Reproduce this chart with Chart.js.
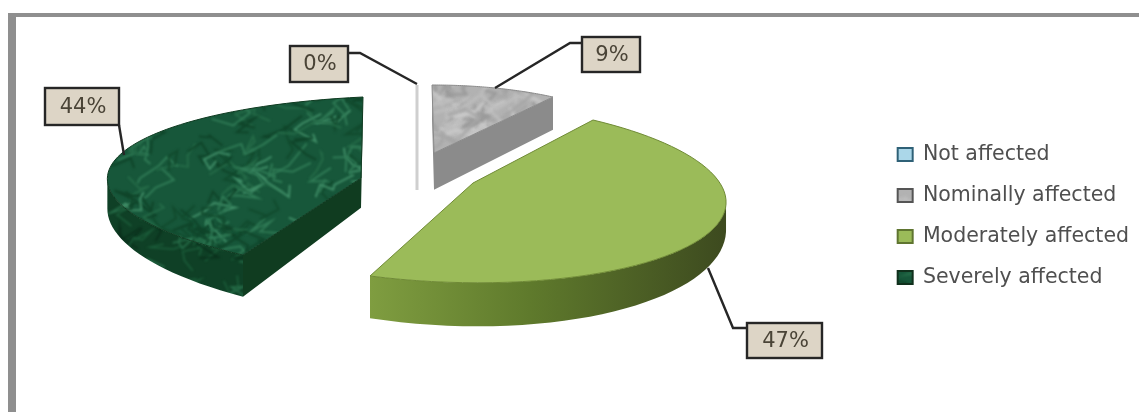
<!DOCTYPE html>
<html>
<head>
<meta charset="utf-8">
<title>Affected share</title>
<script src="https://cdn.jsdelivr.net/npm/chart.js@4/dist/chart.umd.min.js"></script>
<style>
    html, body { margin: 0; padding: 0; background: #fff; overflow: hidden; }
    #page { position: relative; width: 1139px; height: 412px; }
    #frame { position: absolute; left: 8px; top: 13px; right: 0; bottom: 0; border-left: 8px solid #8f8f8f; border-top: 4px solid #8f8f8f; }
    #wrap { position: absolute; left: 0; top: 0; width: 1139px; height: 412px; filter: blur(0.6px); }
</style>
</head>
<body>
<div id="page">
    <div id="frame"></div>
    <div id="wrap"><canvas id="chart"></canvas></div>
</div>
<script>
const categories = ['Not affected', 'Nominally affected', 'Moderately affected', 'Severely affected'];
const shares = [0, 9, 47, 44];
const swatchBorders = ['#2f6177', '#555555', '#5f7530', '#10301c'];

// --- Layout of the tilted slices: where each slice's apex and arc points land on screen ---
const sliceAnchors = [
    { line: [417, 85, 417, 190], color: '#cfcfcf' },
    { apex: [434, 153], start: [432, 85], mid: [495, 88], end: [553, 97], depth: [26, 0.07], wall: '#8b8b8b', edge: '#8a8a8a' },
    { apex: [473, 183], start: [593, 120], mid: [714, 228], end: [370, 276], depth: [-13, 0.2], edge: '#6f8a35' },
    { apex: [361, 178], start: [243, 255], mid: [115, 160], end: [363, 97], depth: [2, 0.156], wall: '#103c20', edge: '#0e3a20' }
];
const callouts = [
    { box: [290, 46, 58, 36], leader: [[348, 53], [360, 53], [417, 84]] },
    { box: [582, 37, 58, 35], leader: [[582, 43], [570, 43], [495, 88]] },
    { box: [747, 323, 75, 35], leader: [[747, 328], [733, 328], [708, 268]] },
    { box: [45, 88, 74, 37], leader: [[119, 125], [124, 155]] }
];

// --- Textures ---
function noise(i) {
    const s = Math.sin(i * 127.1 + 311.7) * 43758.5453;
    return s - Math.floor(s);
}

function makeTexture(size, base, veins, count, lineWidth, blur) {
    const c = document.createElement('canvas');
    c.width = c.height = size;
    const g = c.getContext('2d');
    g.fillStyle = base;
    g.fillRect(0, 0, size, size);
    g.filter = `blur(${blur}px)`;
    g.lineWidth = lineWidth;
    for (let i = 0; i < count; i++) {
        g.strokeStyle = veins[i % veins.length];
        let x = noise(i) * size, y = noise(i + 500) * size;
        g.beginPath();
        g.moveTo(x, y);
        for (let k = 1; k < 5; k++) {
            x += (noise(i * 7 + k) - 0.5) * 44;
            y += (noise(i * 11 + k + 900) - 0.5) * 30;
            g.lineTo(x, y);
        }
        g.stroke();
    }
    return c;
}

const ctxForPatterns = document.createElement('canvas').getContext('2d');
const marble = ctxForPatterns.createPattern(makeTexture(420, '#17573a', ['#2f7a55', '#114a2d', '#3f8c66', '#0f4429', '#246a47'], 520, 2, 1.1), 'repeat');
const marbleDark = ctxForPatterns.createPattern(makeTexture(420, '#0f4026', ['#256b47', '#0a301c', '#1a5a38'], 380, 1.8, 1), 'repeat');
const granite = ctxForPatterns.createPattern(makeTexture(600, '#b2b2b2', ['#cacaca', '#9a9a9a', '#bebebe', '#a6a6a6'], 1500, 3, 1.6), 'repeat');
const sliceColors = ['#abd7e9', granite, '#9bbb59', marble];

// --- Projection helpers ---
// maps the unit circle of an arc element onto four screen points
function solveHomography(src, dst) {
    const m = [];
    for (let i = 0; i < 4; i++) {
        const [u, v] = src[i], [x, y] = dst[i];
        m.push([u, v, 1, 0, 0, 0, -u * x, -v * x, x]);
        m.push([0, 0, 0, u, v, 1, -u * y, -v * y, y]);
    }
    for (let c = 0; c < 8; c++) {
        let p = c;
        for (let r = c + 1; r < 8; r++) if (Math.abs(m[r][c]) > Math.abs(m[p][c])) p = r;
        [m[c], m[p]] = [m[p], m[c]];
        for (let r = 0; r < 8; r++) {
            if (r === c) continue;
            const f = m[r][c] / m[c][c];
            for (let k = c; k < 9; k++) m[r][k] -= f * m[c][k];
        }
    }
    const h = m.map((row, i) => row[8] / row[i]);
    return (u, v) => {
        const w = h[6] * u + h[7] * v + 1;
        return [(h[0] * u + h[1] * v + h[2]) / w, (h[3] * u + h[4] * v + h[5]) / w];
    };
}

function sliceOutline(el, anchor) {
    const a0 = el.startAngle, a1 = el.endAngle, am = (a0 + a1) / 2;
    const unit = a => [Math.cos(a), Math.sin(a)];
    const project = solveHomography(
        [[0, 0], unit(a0), unit(am), unit(a1)],
        [anchor.apex, anchor.start, anchor.mid, anchor.end]
    );
    const pts = [project(0, 0)];
    const steps = 60;
    for (let i = 0; i <= steps; i++) {
        const [u, v] = unit(a0 + (a1 - a0) * i / steps);
        pts.push(project(u, v));
    }
    return pts;
}

function arcWallFill(ctx, index) {
    if (index === 2) {
        const g = ctx.createLinearGradient(370, 0, 725, 0);
        g.addColorStop(0, '#7f9d40');
        g.addColorStop(0.45, '#5f7a2c');
        g.addColorStop(1, '#3d4a1f');
        return g;
    }
    if (index === 3) return marbleDark;
    return sliceAnchors[index].wall;
}

// side walls: only segments running right to left face the viewer
function fillWalls(ctx, pts, anchor, fill, picked) {
    const drop = p => anchor.depth[0] + anchor.depth[1] * p[1];
    ctx.beginPath();
    for (let i = 0; i < pts.length; i++) {
        const p = pts[i], q = pts[(i + 1) % pts.length];
        if (q[0] >= p[0] || !picked(i)) continue;
        ctx.moveTo(p[0], p[1]);
        ctx.lineTo(q[0], q[1]);
        ctx.lineTo(q[0], q[1] + drop(q));
        ctx.lineTo(p[0], p[1] + drop(p));
        ctx.closePath();
    }
    ctx.fillStyle = fill;
    ctx.fill();
}

function drawSlice(ctx, el, index) {
    const anchor = sliceAnchors[index];
    if (el.circumference === 0) {
        const [x0, y0, x1, y1] = anchor.line;
        ctx.strokeStyle = anchor.color;
        ctx.lineWidth = 3;
        ctx.beginPath();
        ctx.moveTo(x0, y0);
        ctx.lineTo(x1, y1);
        ctx.stroke();
        return;
    }
    const pts = sliceOutline(el, anchor);
    const lastArc = pts.length - 1;
    fillWalls(ctx, pts, anchor, arcWallFill(ctx, index), i => i > 0 && i < lastArc);
    fillWalls(ctx, pts, anchor, anchor.wall || '#6f8a35', i => i === 0 || i === lastArc);

    // top face
    ctx.beginPath();
    pts.forEach((p, i) => i ? ctx.lineTo(p[0], p[1]) : ctx.moveTo(p[0], p[1]));
    ctx.closePath();
    ctx.fillStyle = el.options.backgroundColor;
    ctx.fill();
    ctx.strokeStyle = anchor.edge;
    ctx.lineWidth = 1;
    ctx.stroke();
}

function drawCallout(ctx, callout, text) {
    ctx.strokeStyle = '#262626';
    ctx.lineWidth = 2.4;
    ctx.beginPath();
    callout.leader.forEach((p, i) => i ? ctx.lineTo(p[0], p[1]) : ctx.moveTo(p[0], p[1]));
    ctx.stroke();

    const [x, y, w, h] = callout.box;
    ctx.fillStyle = '#ddd5c6';
    ctx.fillRect(x, y, w, h);
    ctx.strokeRect(x, y, w, h);
    ctx.fillStyle = '#4a4437';
    ctx.font = '21px "DejaVu Sans"';
    ctx.textAlign = 'center';
    ctx.textBaseline = 'middle';
    ctx.fillText(text, x + w / 2 + 1, y + h / 2 + 1);
}

// The library lays out the arcs; this plugin projects them into the tilted pie
const tiltedPie = {
    id: 'tiltedPie',
    beforeDatasetsDraw(chart) {
        const ctx = chart.ctx;
        const arcs = chart.getDatasetMeta(0).data;
        ctx.save();
        [3, 1, 2, 0].forEach(i => drawSlice(ctx, arcs[i], i));
        callouts.forEach((c, i) => drawCallout(ctx, c, `${shares[i]}%`));
        ctx.restore();
        return false;
    }
};

const canvasCtx = document.getElementById('chart').getContext('2d');
canvasCtx.letterSpacing = '2px'; // the reference text is stretched wide

new Chart(canvasCtx, {
    type: 'pie',
    data: {
        labels: categories,
        datasets: [{
            data: shares,
            backgroundColor: sliceColors,
            borderColor: swatchBorders,
            borderWidth: 2
        }]
    },
    options: {
        responsive: true,
        maintainAspectRatio: false,
        animation: false,
        layout: { padding: { top: 20, right: 0 } },
        plugins: {
            tooltip: { enabled: false },
            legend: {
                position: 'right',
                labels: {
                    boxWidth: 15,
                    boxHeight: 13,
                    padding: 20.5,
                    color: '#4f4f4f',
                    font: { family: '"DejaVu Sans"', size: 20.5 }
                }
            }
        }
    },
    plugins: [tiltedPie]
});
</script>
</body>
</html>
